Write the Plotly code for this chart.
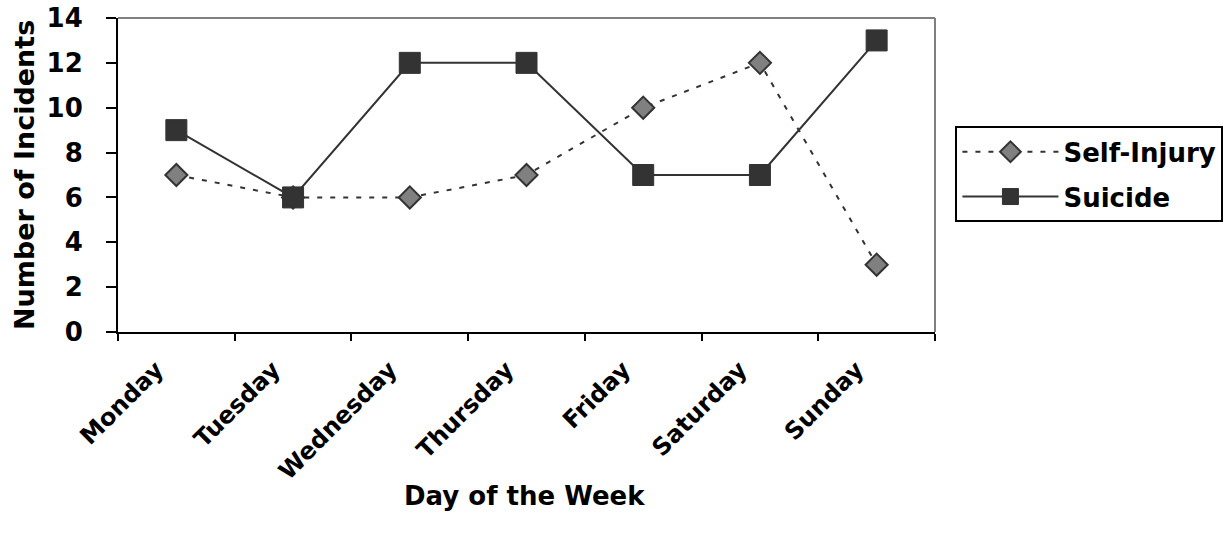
import plotly.graph_objects as go

days = ["Monday", "Tuesday", "Wednesday", "Thursday", "Friday", "Saturday", "Sunday"]
self_injury = [7, 6, 6, 7, 10, 12, 3]
suicide = [9, 6, 12, 12, 7, 7, 13]
y_ticks = [0, 2, 4, 6, 8, 10, 12, 14]

FONT = "DejaVu Sans, Liberation Sans, sans-serif"

fig = go.Figure()
fig.add_trace(go.Scatter(
    x=days, y=self_injury, name="Self-Injury", mode="lines+markers",
    legendgroup="a",
    line=dict(color="#333333", width=2, dash="5px,8px"),
    marker=dict(symbol="diamond", size=17, color="#808080",
                line=dict(color="#333333", width=2)),
))
fig.add_trace(go.Scatter(
    x=days, y=suicide, name="Suicide", mode="lines+markers",
    legendgroup="b",
    line=dict(color="#333333", width=2),
    marker=dict(symbol="square", size=21, color="#333333",
                line=dict(color="#333333", width=1)),
))

# grey frame on the top and right of the plot area
fig.add_shape(type="line", xref="paper", yref="paper", x0=0, x1=1, y0=1, y1=1,
              line=dict(color="#808080", width=2), layer="below")
fig.add_shape(type="line", xref="paper", yref="paper", x0=1, x1=1, y0=0, y1=1,
              line=dict(color="#808080", width=2), layer="below")

# axis titles
fig.add_annotation(text="Day of the Week", xref="paper", yref="paper",
                   x=0.498, y=-0.522, xanchor="center", yanchor="middle",
                   showarrow=False,
                   font=dict(family=FONT, size=26, color="black", weight="bold"))
fig.add_annotation(text="Number of Incidents", xref="paper", yref="paper",
                   x=-0.115, y=0.5, xanchor="center", yanchor="middle",
                   textangle=-90, showarrow=False,
                   font=dict(family=FONT, size=27, color="black", weight="bold"))

fig.update_layout(
    width=1230, height=540,
    margin=dict(l=118, r=295, t=18, b=208, autoexpand=False),
    paper_bgcolor="white", plot_bgcolor="white",
    font=dict(family=FONT, color="black"),
    showlegend=True,
    legend=dict(
        x=1.025, y=0.655, xanchor="left", yanchor="top",
        bordercolor="black", borderwidth=2, bgcolor="white",
        font=dict(family=FONT, size=26, color="black", weight="bold"),
        itemwidth=96, traceorder="grouped", tracegroupgap=8,
    ),
    xaxis=dict(
        type="category", range=[-0.5, 6.5], automargin=False,
        showline=True, linecolor="black", linewidth=2,
        ticks="outside", tickson="boundaries", ticklen=7, tickwidth=2, tickcolor="black",
        tickangle=-45, ticklabelstandoff=12, ticklabelshift=-20,
        showgrid=False, zeroline=False,
        tickfont=dict(family=FONT, size=24, color="black", weight="bold"),
    ),
    yaxis=dict(
        range=[0, 14], tickvals=y_ticks, automargin=False,
        showline=True, linecolor="black", linewidth=2,
        ticks="outside", ticklen=10, tickwidth=2, tickcolor="black",
        ticklabelstandoff=18,
        showgrid=False, zeroline=False,
        tickfont=dict(family=FONT, size=26, color="black", weight="bold"),
    ),
)

fig.write_html("out.html")
